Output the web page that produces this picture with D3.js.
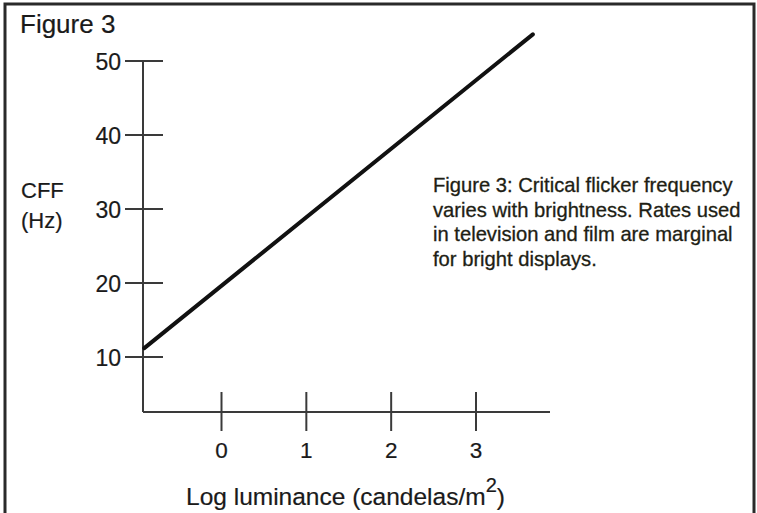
<!DOCTYPE html>
<html>
<head>
<meta charset="utf-8">
<script src="https://cdn.jsdelivr.net/npm/d3@7"></script>
<style>
  html, body { margin: 0; padding: 0; background: #fff; }
  svg { display: block; font-family: "Liberation Sans", Arial, Helvetica, sans-serif; }
</style>
</head>
<body>
<svg id="chart" width="757" height="513"></svg>
<script>
// Data
const logLuminance = [-0.91, 3.67];   // line endpoints, log cd/m^2
const cffHz = [11.2, 53.6];           // critical flicker frequency, Hz
const xTicks = [0, 1, 2, 3];
const yTicks = [10, 20, 30, 40, 50];
const captionLines = [
  "Figure 3: Critical flicker frequency",
  "varies with brightness. Rates used",
  "in television and film are marginal",
  "for bright displays."
];

const svg = d3.select("#chart");
const ink = "#1a1a1a";
const axisInk = "#3a3a3a";

// frame
svg.append("rect").attr("x", 5).attr("y", 4).attr("width", 749).attr("height", 520)
  .attr("fill", "none").attr("stroke", "#2a2a2a").attr("stroke-width", 3);

const x = d3.scaleLinear().domain([0, 3]).range([221.5, 476]);
const y = d3.scaleLinear().domain([10, 50]).range([357, 61]);

const axisX0 = 143, axisY0 = 412;

// y axis line
svg.append("line").attr("x1", axisX0).attr("x2", axisX0)
  .attr("y1", y(50)).attr("y2", axisY0)
  .attr("stroke", axisInk).attr("stroke-width", 2);
// x axis line
svg.append("line").attr("x1", axisX0).attr("x2", 550)
  .attr("y1", axisY0).attr("y2", axisY0)
  .attr("stroke", axisInk).attr("stroke-width", 2);

// y ticks (crossing)
const yt = svg.append("g");
yt.selectAll("line").data(yTicks).join("line")
  .attr("x1", 125).attr("x2", 163)
  .attr("y1", d => y(d)).attr("y2", d => y(d))
  .attr("stroke", axisInk).attr("stroke-width", 2);
yt.selectAll("text").data(yTicks).join("text")
  .attr("x", 121).attr("y", d => y(d) + 8.5)
  .attr("text-anchor", "end").attr("font-size", 23).attr("fill", ink)
  .attr("stroke", ink).attr("stroke-width", 0.2)
  .text(d => d);

// x ticks (crossing)
const xt = svg.append("g");
xt.selectAll("line").data(xTicks).join("line")
  .attr("x1", d => x(d)).attr("x2", d => x(d))
  .attr("y1", 392).attr("y2", 431)
  .attr("stroke", axisInk).attr("stroke-width", 2);
xt.selectAll("text").data(xTicks).join("text")
  .attr("x", d => x(d)).attr("y", 458)
  .attr("text-anchor", "middle").attr("font-size", 22.5).attr("fill", ink)
  .attr("stroke", ink).attr("stroke-width", 0.2)
  .text(d => d);

// data line
const pts = logLuminance.map((v, i) => [v, cffHz[i]]);
svg.append("path").datum(pts)
  .attr("d", d3.line().x(d => x(d[0])).y(d => y(d[1])))
  .attr("fill", "none").attr("stroke", "#111").attr("stroke-width", 4)
  .attr("stroke-linecap", "round");

// titles
svg.append("text").attr("x", 20).attr("y", 33).attr("font-size", 26).attr("fill", ink)
  .attr("stroke", ink).attr("stroke-width", 0.2)
  .text("Figure 3");
svg.append("text").attr("x", 21).attr("y", 198).attr("font-size", 22).attr("fill", ink)
  .attr("stroke", ink).attr("stroke-width", 0.2)
  .text("CFF");
svg.append("text").attr("x", 21).attr("y", 228).attr("font-size", 22).attr("fill", ink)
  .attr("stroke", ink).attr("stroke-width", 0.2)
  .text("(Hz)");

const xt2 = svg.append("text").attr("x", 186).attr("y", 505)
  .attr("font-size", 24.5).attr("fill", ink)
  .attr("stroke", ink).attr("stroke-width", 0.2);
xt2.append("tspan").text("Log luminance (candelas/m");
xt2.append("tspan").attr("dy", -13).attr("font-size", 20).text("2");
xt2.append("tspan").attr("dy", 13).text(")");

// caption
svg.append("g").selectAll("text").data(captionLines).join("text")
  .attr("x", 433).attr("y", (d, i) => 192 + i * 24.7)
  .attr("font-size", 20.2).attr("fill", "#1e1e14")
  .attr("stroke", "#1e1e14").attr("stroke-width", 0.3)
  .text(d => d);
</script>
</body>
</html>
